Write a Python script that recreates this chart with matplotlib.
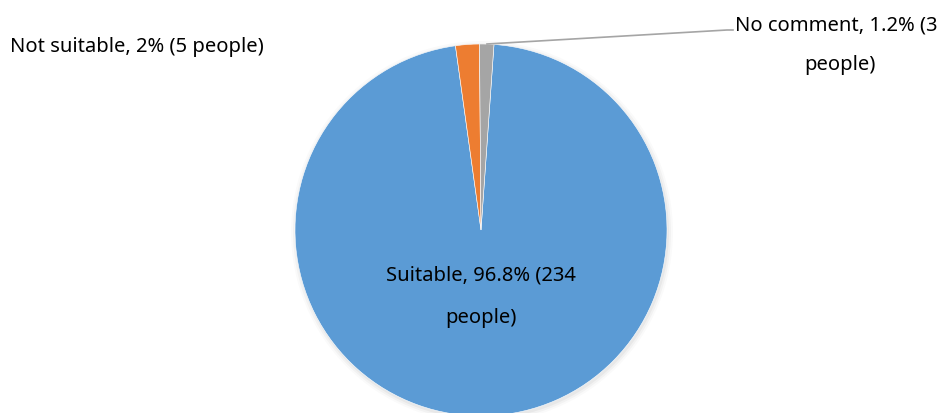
import matplotlib.pyplot as plt

labels = ['Suitable', 'Not suitable', 'No comment']
people = [234, 5, 3]
percents = ['96.8%', '2%', '1.2%']
colors = ['#5B9BD5', '#ED7D31', '#A5A5A5']

plt.rcParams['font.family'] = ['Noto Sans', 'DejaVu Sans']

W, H = 944, 414
fig = plt.figure(figsize=(W / 100, H / 100), dpi=100)
ax = fig.add_axes([0, 0, 1, 1])

cx, cy, r = 481, H - 231, 186

# soft shadow under the pie
for i, a in enumerate([0.04, 0.03, 0.02]):
    sh = plt.Circle((cx + 1, cy - 2), r + 1 + i * 2, color='black', alpha=a, lw=0)
    ax.add_patch(sh)

wedges, _ = ax.pie(people, colors=colors, startangle=86, counterclock=False,
                   center=(cx, cy), radius=r, frame=True,
                   wedgeprops=dict(edgecolor='white', linewidth=0.4))
ax.set_xlim(0, W)
ax.set_ylim(0, H)
ax.axis('off')

fs = 14.5
# Suitable label inside
ax.text(cx, H - 275, f'{labels[0]}, {percents[0]} ({people[0]}',
        ha='center', va='center', fontsize=fs, color='black')
ax.text(cx, H - 318, 'people)', ha='center', va='center', fontsize=fs, color='black')

# Not suitable label
ax.text(10, H - 47, f'{labels[1]}, {percents[1]} ({people[1]} people)',
        ha='left', va='center', fontsize=fs, color='black')

# No comment label with leader line
ax.plot([487, 727, 733], [H - 45, H - 31, H - 31], color='#A5A5A5', lw=1.2)
ax.text(735, H - 25, f'{labels[2]}, {percents[2]} ({people[2]}',
        ha='left', va='center', fontsize=fs, color='black')
ax.text(840, H - 65, 'people)', ha='center', va='center', fontsize=fs, color='black')

fig.savefig('out.png', dpi=100)
